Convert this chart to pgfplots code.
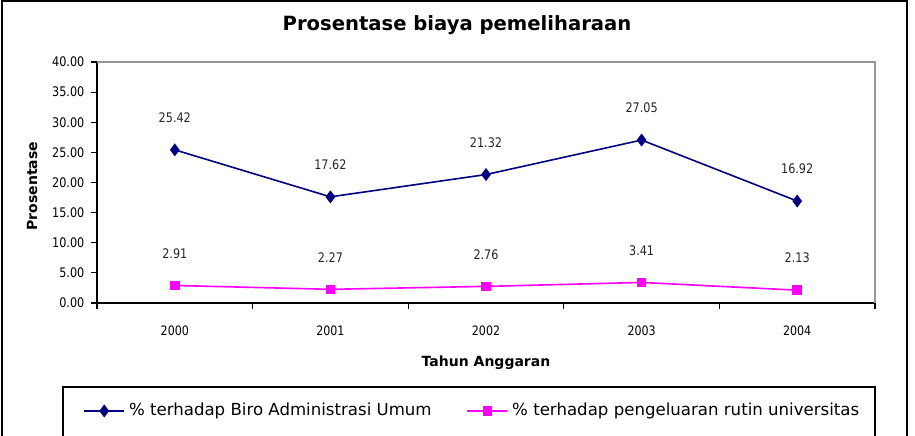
\documentclass[border=0pt]{standalone}
\usepackage{pgfplots}
\pgfplotsset{compat=1.18}
\usetikzlibrary{calc}
\usepackage{fontspec}
\setmainfont{DejaVu Sans}
\newfontfamily\cond{DejaVu Sans}[FakeStretch=0.85]
\definecolor{navyline}{RGB}{0,0,128}
\definecolor{pinkline}{RGB}{255,0,255}
\definecolor{framegray}{RGB}{150,150,150}
\begin{document}
\begin{tikzpicture}
\begin{axis}[
  scale only axis, width=389pt, height=120.5pt,
  xmin=-0.5, xmax=4.5, ymin=0, ymax=40,
  axis x line*=bottom, axis y line*=left,
  axis line style={black,line width=0.6pt,-},
  xtick={0,1,2,3,4},
  xticklabels={2000,2001,2002,2003,2004},
  minor xtick={-0.5,0.5,1.5,2.5,3.5,4.5},
  major x tick style={draw=none},
  minor tick length=2.8pt,
  ytick={0,5,...,40},
  tick align=outside,
  major tick length=2.8pt,
  tick style={black,line width=0.6pt},
  x tick label style={font=\cond\fontsize{6.5}{7}\selectfont, yshift=-5pt},
  y tick label style={font=\cond\fontsize{6.6}{7}\selectfont},
  yticklabel style={/pgf/number format/fixed,/pgf/number format/fixed zerofill,/pgf/number format/precision=2,/pgf/number format/assume math mode=true},
  nodes near coords,
  nodes near coords style={/pgf/number format/fixed,/pgf/number format/fixed zerofill,/pgf/number format/precision=2,/pgf/number format/assume math mode=true},
  every node near coord/.append style={anchor=center, yshift=16pt, font=\cond\fontsize{6.6}{7}\selectfont, text=black!85},
  clip=false,
  legend columns=2,
  legend style={at={(-0.0257,-0.448)}, anchor=west, draw=none, fill=none,
    font=\fontsize{8.3}{10}\selectfont,
    /tikz/every even column/.append style={column sep=15.5pt}},
  legend image code/.code={\draw[mark repeat=2,mark phase=2] plot coordinates {(0pt,0pt) (10pt,0pt) (20pt,0pt)};},
]
\addplot[navyline, line width=0.8pt, mark=diamond*, mark size=2.6pt, mark options={fill=navyline,draw=navyline}]
  coordinates {(0,25.42) (1,17.62) (2,21.32) (3,27.05) (4,16.92)};
\addlegendentry{\% terhadap Biro Administrasi Umum}
\addplot[pinkline, line width=0.8pt, mark=square*, mark size=2pt, mark options={fill=pinkline,draw=pinkline}]
  coordinates {(0,2.91) (1,2.27) (2,2.76) (3,3.41) (4,2.13)};
\addlegendentry{\% terhadap pengeluaran rutin universitas}
\draw[framegray,line width=0.6pt] (rel axis cs:0,1) -- (rel axis cs:1,1) -- (rel axis cs:1,0);
\coordinate (O) at (rel axis cs:0,0);
\end{axis}
\coordinate (B) at ($(O)+(-48.5pt,-66pt)$);
\pgfresetboundingbox
\useasboundingbox (B) rectangle ++(457.5pt,217.5pt);
\draw[black,line width=1pt] ($(B)+(1.2pt,-20pt)$) rectangle ($(B)+(453.5pt,217.0pt)$);
\node[font=\bfseries\fontsize{9.8}{11}\selectfont] at ($(B)+(228.5pt,205pt)$) {Prosentase biaya pemeliharaan};
\node[font=\bfseries\fontsize{7}{8}\selectfont,rotate=90] at ($(B)+(16pt,124.5pt)$) {Prosentase};
\node[font=\bfseries\fontsize{7}{8}\selectfont] at ($(B)+(243pt,36pt)$) {Tahun Anggaran};
\draw[black,line width=0.6pt] ($(B)+(31.5pt,-20pt)$) rectangle ($(B)+(437.5pt,24pt)$);
\end{tikzpicture}
\end{document}
